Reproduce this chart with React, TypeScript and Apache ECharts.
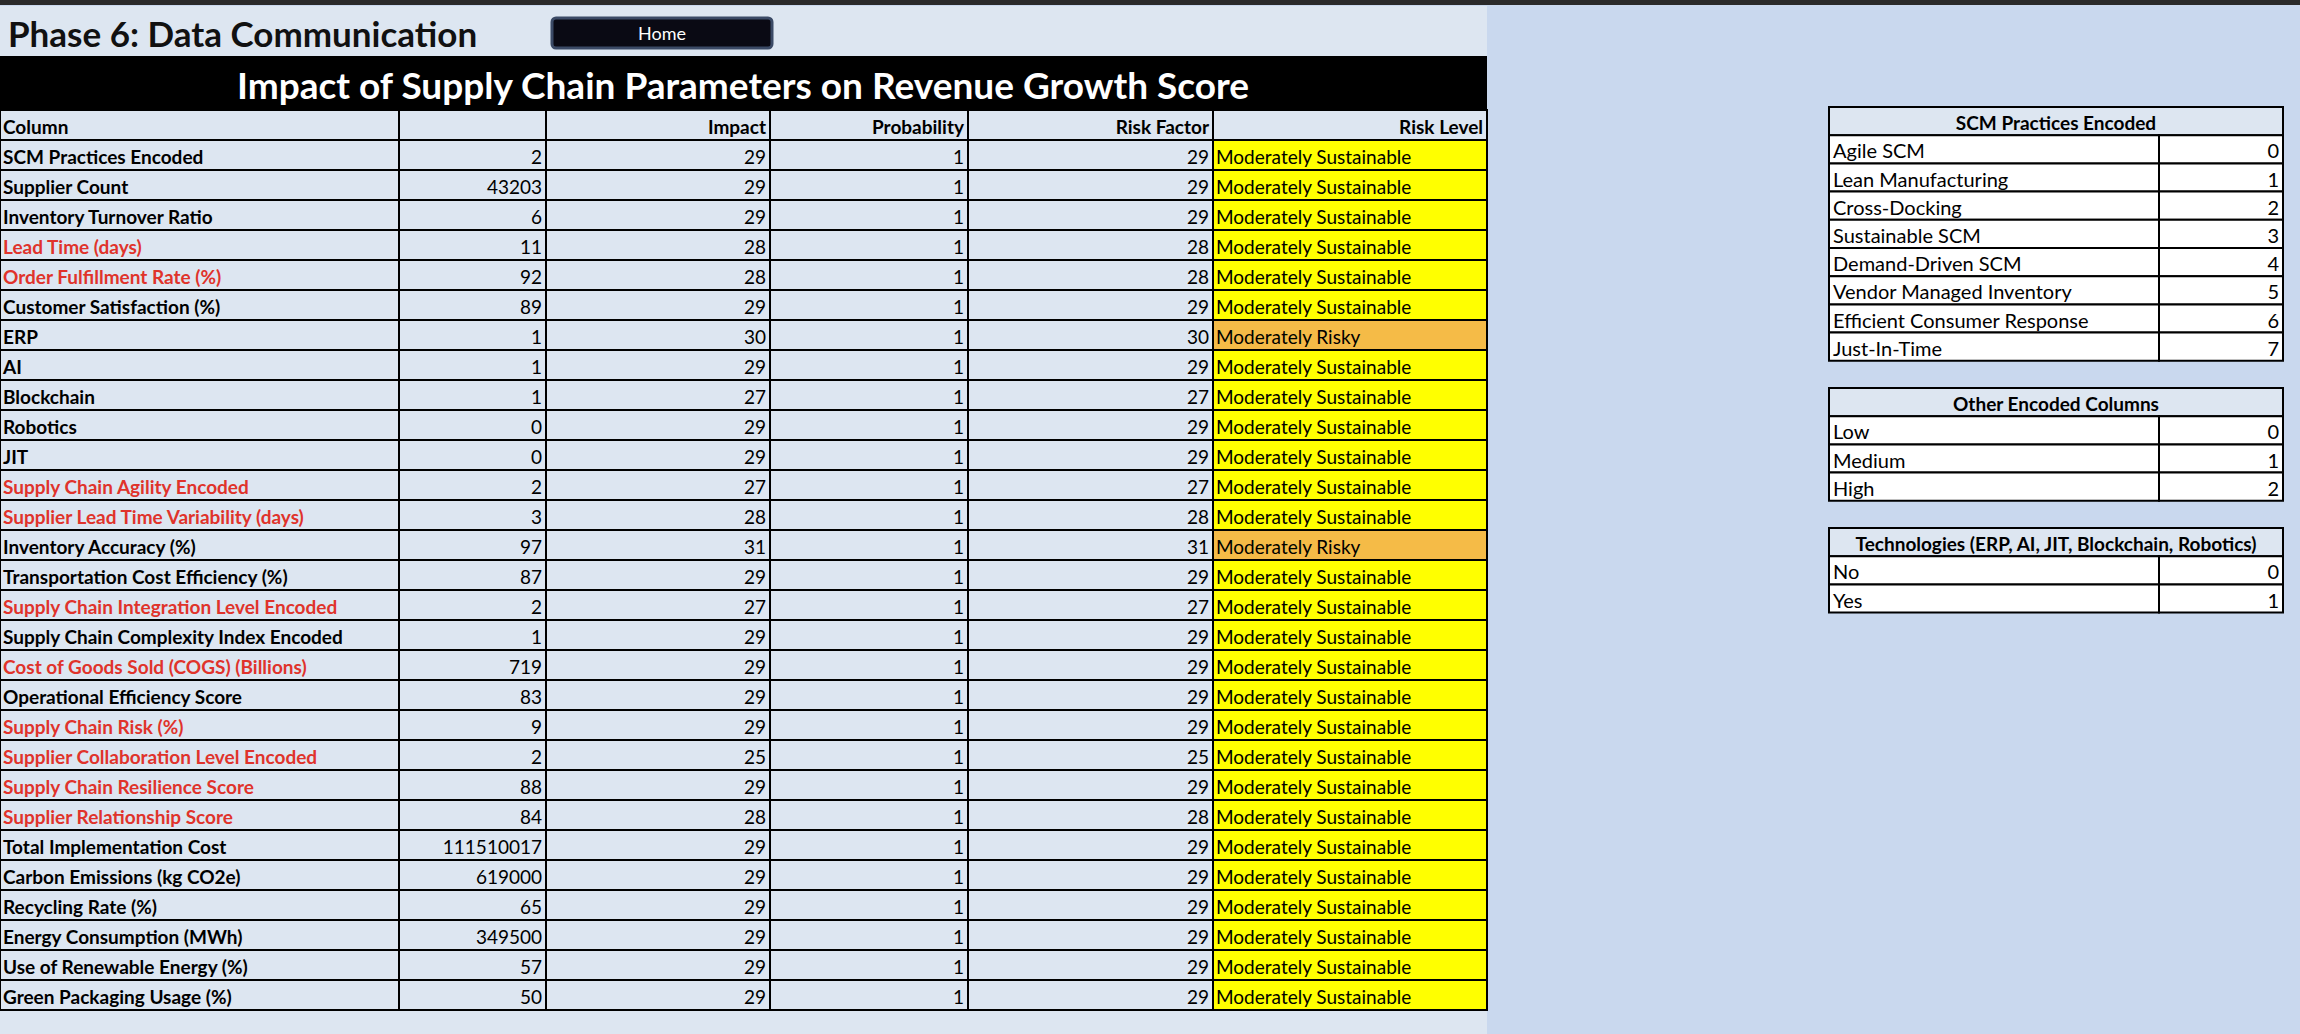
import React, { useEffect, useRef } from "react";
import * as echarts from "echarts";

const columns = ["Column", "", "Impact", "Probability", "Risk Factor", "Risk Level"];
const params = ["SCM Practices Encoded","Supplier Count","Inventory Turnover Ratio","Lead Time (days)","Order Fulfillment Rate (%)","Customer Satisfaction (%)","ERP","AI","Blockchain","Robotics","JIT","Supply Chain Agility Encoded","Supplier Lead Time Variability (days)","Inventory Accuracy (%)","Transportation Cost Efficiency (%)","Supply Chain Integration Level Encoded","Supply Chain Complexity Index Encoded","Cost of Goods Sold (COGS) (Billions)","Operational Efficiency Score","Supply Chain Risk (%)","Supplier Collaboration Level Encoded","Supply Chain Resilience Score","Supplier Relationship Score","Total Implementation Cost","Carbon Emissions (kg CO2e)","Recycling Rate (%)","Energy Consumption (MWh)","Use of Renewable Energy (%)","Green Packaging Usage (%)"];
const values = [2,43203,6,11,92,89,1,1,1,0,0,2,3,97,87,2,1,719,83,9,2,88,84,111510017,619000,65,349500,57,50];
const impact = [29,29,29,28,28,29,30,29,27,29,29,27,28,31,29,27,29,29,29,29,25,29,28,29,29,29,29,29,29];
const probability = [1,1,1,1,1,1,1,1,1,1,1,1,1,1,1,1,1,1,1,1,1,1,1,1,1,1,1,1,1];
const riskFactor = [29,29,29,28,28,29,30,29,27,29,29,27,28,31,29,27,29,29,29,29,25,29,28,29,29,29,29,29,29];
const riskLevel = riskFactor.map((r) => (r >= 30 ? "Moderately Risky" : "Moderately Sustainable"));
const redRows = [3,4,11,12,15,17,19,20,21,22];

const scmLabels = ["Agile SCM","Lean Manufacturing","Cross-Docking","Sustainable SCM","Demand-Driven SCM","Vendor Managed Inventory","Efficient Consumer Response","Just-In-Time"];
const scmCodes = [0,1,2,3,4,5,6,7];
const otherLabels = ["Low","Medium","High"];
const otherCodes = [0,1,2];
const techLabels = ["No","Yes"];
const techCodes = [0,1];

const FONT = "Lato, 'Open Sans', sans-serif";

function buildGraphics() {
  const g: any[] = [];
  g.push({ type: "rect", shape: { x: 0, y: 0, width: 2300, height: 1034 }, style: { fill: "#c9d8ee" } });
  g.push({ type: "rect", shape: { x: 0, y: 6, width: 1487, height: 1028 }, style: { fill: "#dde6f1" } });
  g.push({ type: "rect", shape: { x: 0, y: 0, width: 2300, height: 5 }, style: { fill: "#2a2a2a" } });
  g.push({ type: "text", x: 8, y: 33, style: { text: "Phase 6: Data Communication", font: `bold 35px ${FONT}`, fill: "#111", verticalAlign: "middle" } });
  g.push({ type: "rect", shape: { x: 552, y: 18, width: 220, height: 30, r: 4 }, style: { fill: "#0a0a14", stroke: "#3b4a66", lineWidth: 3 } });
  g.push({ type: "text", x: 662, y: 33, style: { text: "Home", font: `18px ${FONT}`, fill: "#fff", align: "center", verticalAlign: "middle" } });
  g.push({ type: "rect", shape: { x: 0, y: 56, width: 1487, height: 53 }, style: { fill: "#000" } });
  g.push({ type: "text", x: 743, y: 84, style: { text: "Impact of Supply Chain Parameters on Revenue Growth Score", font: `bold 37px ${FONT}`, fill: "#fff", align: "center", verticalAlign: "middle" } });

  const xs = [0, 399, 546, 770, 968, 1213, 1487];
  const top = 110, rh = 30;
  const rows = [columns, ...params.map((p, i) => [p, String(values[i]), String(impact[i]), String(probability[i]), String(riskFactor[i]), riskLevel[i]])];
  rows.forEach((row, r) => {
    const y = top + r * rh;
    for (let c = 0; c < 6; c++) {
      let fill = "#dde6f1";
      if (r > 0 && c === 5) fill = row[5] === "Moderately Risky" ? "#f5bb47" : "#ffff00";
      g.push({ type: "rect", shape: { x: xs[c], y, width: xs[c + 1] - xs[c], height: rh }, style: { fill, stroke: "#000", lineWidth: 2 } });
      const isHeader = r === 0;
      const isRed = r > 0 && redRows.includes(r - 1);
      let align = c === 0 ? "left" : "right";
      let tx = c === 0 ? xs[c] + 3 : xs[c + 1] - 4;
      if (c === 5 && !isHeader) { align = "left"; tx = xs[c] + 3; }
      const bold = isHeader || c === 0;
      g.push({ type: "text", x: tx, y: y + rh / 2 + 1, style: { text: row[c], font: `${bold ? "bold " : ""}19px ${FONT}`, fill: c === 0 && isRed ? "#e0332b" : "#000", align, verticalAlign: "middle" } });
    }
  });

  const tables = [
    { title: "SCM Practices Encoded", labels: scmLabels, codes: scmCodes, y: 107 },
    { title: "Other Encoded Columns", labels: otherLabels, codes: otherCodes, y: 388 },
    { title: "Technologies (ERP, AI, JIT, Blockchain, Robotics)", labels: techLabels, codes: techCodes, y: 528 },
  ];
  const tx0 = 1829, tx1 = 2159, tx2 = 2283, trh = 28.2;
  tables.forEach((t) => {
    g.push({ type: "rect", shape: { x: tx0, y: t.y, width: tx2 - tx0, height: trh }, style: { fill: "#dde6f1", stroke: "#000", lineWidth: 2 } });
    g.push({ type: "text", x: (tx0 + tx2) / 2, y: t.y + trh / 2 + 1, style: { text: t.title, font: `bold 19px ${FONT}`, fill: "#000", align: "center", verticalAlign: "middle" } });
    t.labels.forEach((l, i) => {
      const y = t.y + trh * (i + 1);
      g.push({ type: "rect", shape: { x: tx0, y, width: tx1 - tx0, height: trh }, style: { fill: "#fff", stroke: "#000", lineWidth: 2 } });
      g.push({ type: "rect", shape: { x: tx1, y, width: tx2 - tx1, height: trh }, style: { fill: "#fff", stroke: "#000", lineWidth: 2 } });
      g.push({ type: "text", x: tx0 + 4, y: y + trh / 2 + 1, style: { text: l, font: `20px ${FONT}`, fill: "#000", verticalAlign: "middle" } });
      g.push({ type: "text", x: tx2 - 4, y: y + trh / 2 + 1, style: { text: String(t.codes[i]), font: `20px ${FONT}`, fill: "#000", align: "right", verticalAlign: "middle" } });
    });
  });
  return g;
}

export default function App() {
  const ref = useRef<HTMLDivElement>(null);
  useEffect(() => {
    document.body.style.margin = "0";
    const chart = echarts.init(ref.current!, undefined, { renderer: "svg" });
    chart.setOption({ animation: false, graphic: buildGraphics() });
    return () => chart.dispose();
  }, []);
  return <div ref={ref} style={{ width: 2300, height: 1034 }} />;
}
